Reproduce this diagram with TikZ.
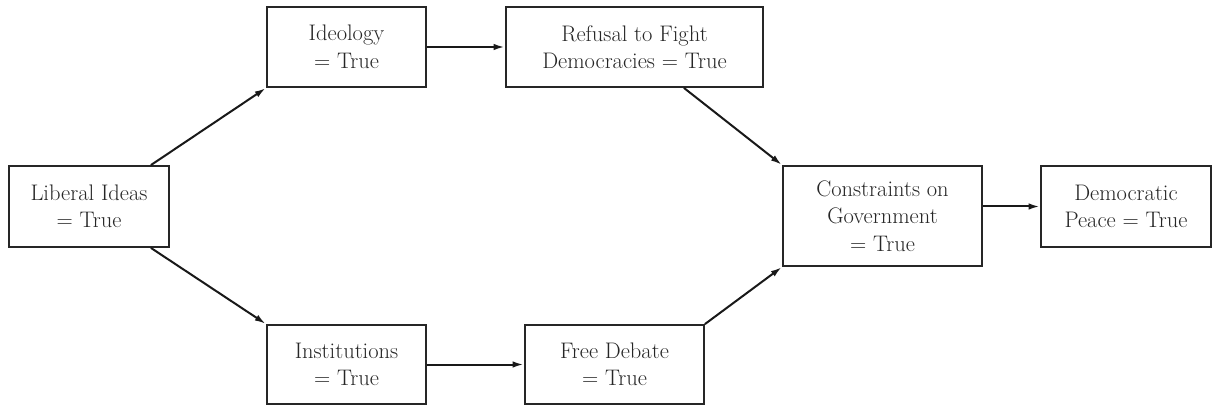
\documentclass[tikz,border=0pt]{standalone}
\usetikzlibrary{arrows.meta}
\begin{document}
\begin{tikzpicture}[x=1pt,y=-1pt,
  box/.style={draw=black!85, line width=1.8pt, rectangle, inner sep=0pt, align=center,
    text=black!85, font=\fontsize{22.5}{27.5}\selectfont},
  conn/.style={draw=black!90, line width=2pt, -{Latex[length=11pt,width=6.5pt]}, shorten >=0.5pt}]
\useasboundingbox (0,0) rectangle (1215,406);
\node[box, minimum width=160pt, minimum height=81pt] (lib) at (89,206.5) {Liberal Ideas\\= True};
\node[box, minimum width=159pt, minimum height=80pt] (ideo) at (346.5,47) {Ideology\\= True};
\node[box, minimum width=257pt, minimum height=80pt] (ref) at (634.5,47) {Refusal to Fight\\Democracies = True};
\node[box, minimum width=159pt, minimum height=79pt] (inst) at (346.5,364.5) {Institutions\\= True};
\node[box, minimum width=179pt, minimum height=79pt] (free) at (614.5,364.5) {Free Debate\\= True};
\node[box, minimum width=199pt, minimum height=100pt] (cons) at (882.5,216) {Constraints on\\Government\\= True};
\node[box, minimum width=170pt, minimum height=81pt] (dem) at (1126,206.5) {Democratic\\Peace = True};
\draw[conn] ([xshift=-19pt]lib.north east) -- (ideo.south west);
\draw[conn] ([xshift=-19pt]lib.south east) -- (inst.north west);
\draw[conn] (ideo.east) -- (ref.west);
\draw[conn] (inst.east) -- (free.west);
\draw[conn] ([xshift=-80pt]ref.south east) -- (cons.north west);
\draw[conn] (free.north east) -- (cons.south west);
\draw[conn] (cons.east |- dem.west) -- (dem.west);
\end{tikzpicture}
\end{document}
